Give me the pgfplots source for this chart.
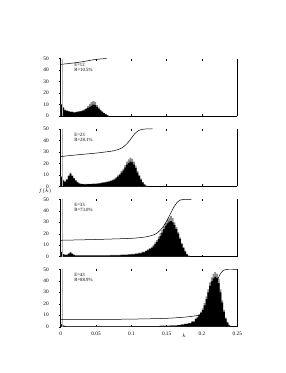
\documentclass[border=0pt]{standalone}
\usepackage{fontspec}
\setmainfont{Liberation Serif}
\usepackage{pgfplots}
\pgfplotsset{compat=1.18}
\pgfplotsset{panel/.style={
  scale only axis, width=176.6pt, height=57.4pt,
  xmin=0, xmax=0.25, ymin=0, ymax=50,
  axis x line*=bottom, axis y line*=box,
  xtick={0,0.05,0.1,0.15,0.2,0.25}, ytick={0,10,20,30,40,50},
  xtick pos=left, ytick pos=left,
  xtick align=inside, ytick align=outside,
  major tick length=2pt,
  xticklabels={},
  tick label style={font=\fontsize{5.3}{6}\selectfont},
  yticklabel style={xshift=-6.5pt},
  /pgf/number format/assume math mode=true,
  axis line style={line width=0.45pt},
  every tick/.style={black, line width=0.4pt},
  anchor=south west,
}, hg/.style={const plot, fill=black!45, draw=none},
   hb/.style={const plot, fill=black, draw=none},
   cum/.style={black, line width=0.5pt, smooth, tension=0.4},
   zl/.style={gray!60, line width=0.5pt}}
\tikzset{lab/.style={anchor=west, font=\fontsize{4.8}{5}\selectfont, inner sep=0pt}}
\newcommand{\topticks}{\pgfplotsinvokeforeach{0.05,0.1,0.15,0.2}{\draw[line width=0.4pt] (axis cs:##1,50) -- ([yshift=-2pt]axis cs:##1,50);}}
\begin{document}
\begin{tikzpicture}[x=1pt,y=1pt]
\path[use as bounding box] (0,0) rectangle (286,373);
% Panel 1
\begin{axis}[panel, at={(60.7pt,257pt)}]
\addplot[hg] coordinates {(0,10.5)(0.0025,8)(0.005,5.5)(0.0075,4.8)(0.01,4.3)(0.0125,3.8)(0.015,3.8)(0.0175,3.3)(0.02,3.5)(0.0225,3.8)(0.025,4.2)(0.0275,4.5)(0.03,5.2)(0.0325,6)(0.035,7)(0.0375,8.5)(0.04,10.5)(0.0425,12)(0.045,13)(0.0475,12)(0.05,9.5)(0.0525,7.5)(0.055,5.5)(0.0575,4)(0.06,2.8)(0.0625,1.8)(0.065,0.8)(0.0675,0)} \closedcycle;
\addplot[hb] coordinates {(0,10)(0.0025,7)(0.005,5)(0.0075,4.5)(0.01,4)(0.0125,3.5)(0.015,3.5)(0.0175,3)(0.02,3.2)(0.0225,3.5)(0.025,3.8)(0.0275,4)(0.03,4.5)(0.0325,5)(0.035,6)(0.0375,7)(0.04,8)(0.0425,9)(0.045,10)(0.0475,9.5)(0.05,8)(0.0525,6.5)(0.055,5)(0.0575,3.5)(0.06,2.5)(0.0625,1.5)(0.065,0.5)(0.0675,0)} \closedcycle;
\addplot[zl] coordinates {(0.0022,0)(0.0022,50)};
\addplot[cum] coordinates {(0,45)(0.01,45.6)(0.02,46.3)(0.03,47.2)(0.04,48.3)(0.05,49.3)(0.058,49.8)(0.065,50)};
\topticks
\node[lab] at (axis cs:0.019,44.8) {E=12};
\node[lab] at (axis cs:0.019,40.3) {R=10.5\%};
\end{axis}
% Panel 2
\begin{axis}[panel, at={(60.7pt,186.6pt)}]
\addplot[hg] coordinates {(0,9)(0.0025,6)(0.005,4.5)(0.0075,6.5)(0.01,9.5)(0.0125,12)(0.015,9.5)(0.0175,7.5)(0.02,5.5)(0.0225,4)(0.025,3)(0.0275,2.4)(0.03,2.3)(0.0325,2.1)(0.035,2.1)(0.0375,2.3)(0.045,2.5)(0.05,2.6)(0.0525,2.8)(0.055,3)(0.0575,3.4)(0.06,3.6)(0.0625,4)(0.065,4.3)(0.0675,4.8)(0.07,5.3)(0.0725,6)(0.075,6.8)(0.0775,8)(0.08,9.5)(0.0825,11)(0.085,13.5)(0.0875,15.5)(0.09,18.5)(0.0925,21.5)(0.095,23.5)(0.0975,25)(0.1,24)(0.1025,21.5)(0.105,18)(0.1075,13.5)(0.11,10)(0.1125,6.8)(0.115,4)(0.1175,2)(0.12,0.7)(0.1225,0)} \closedcycle;
\addplot[hb] coordinates {(0,8)(0.0025,5)(0.005,4)(0.0075,6)(0.01,9)(0.0125,11)(0.015,9)(0.0175,7)(0.02,5)(0.0225,3.5)(0.025,2.5)(0.0275,2)(0.03,2)(0.0325,1.8)(0.035,1.8)(0.0375,2)(0.045,2.2)(0.05,2.3)(0.0525,2.5)(0.055,2.7)(0.0575,3)(0.06,3.2)(0.0625,3.5)(0.065,3.8)(0.0675,4.2)(0.07,4.6)(0.0725,5.2)(0.075,6)(0.0775,7)(0.08,8.5)(0.0825,10)(0.085,12)(0.0875,14)(0.09,16.5)(0.0925,19)(0.095,20.5)(0.0975,21.5)(0.1,21)(0.1025,19)(0.105,16)(0.1075,12)(0.11,9)(0.1125,6)(0.115,3.5)(0.1175,1.5)(0.12,0.5)(0.1225,0)} \closedcycle;
\addplot[zl] coordinates {(0.0022,0)(0.0022,50)};
\addplot[cum] coordinates {(0,26)(0.025,27.6)(0.05,29)(0.075,31)(0.085,33)(0.09,35)(0.095,38)(0.1,42)(0.105,46)(0.11,48.5)(0.115,49.7)(0.12,50)(0.13,50)};
\topticks
\node[lab] at (axis cs:0.019,44.8) {E=23};
\node[lab] at (axis cs:0.019,40.3) {R=28.1\%};
\end{axis}
% Panel 3
\begin{axis}[panel, at={(60.7pt,116.3pt)}]
\addplot[hg] coordinates {(0,4.5)(0.0025,2.4)(0.005,1.8)(0.0075,1.8)(0.01,3)(0.0125,4.2)(0.015,3)(0.0175,1.8)(0.02,1.3)(0.07,1.5)(0.085,1.8)(0.095,2.2)(0.1,2.5)(0.105,2.9)(0.11,3.6)(0.115,4.5)(0.12,5.6)(0.1225,6.4)(0.125,7.5)(0.1275,8.6)(0.13,10.3)(0.1325,12.5)(0.135,14.5)(0.1375,17.5)(0.14,20.5)(0.1425,23.5)(0.145,26.5)(0.1475,29.5)(0.15,32)(0.1525,34)(0.155,35.5)(0.1575,33.5)(0.16,30)(0.1625,26)(0.165,21.5)(0.1675,16.8)(0.17,12)(0.1725,8.3)(0.175,5.2)(0.1775,2.5)(0.18,0.9)(0.1825,0)} \closedcycle;
\addplot[hb] coordinates {(0,4)(0.0025,2)(0.005,1.5)(0.0075,1.5)(0.01,2.5)(0.0125,3.5)(0.015,2.5)(0.0175,1.5)(0.02,1)(0.07,1.2)(0.085,1.5)(0.095,1.8)(0.1,2)(0.105,2.4)(0.11,3)(0.115,3.8)(0.12,4.8)(0.1225,5.5)(0.125,6.5)(0.1275,7.5)(0.13,9)(0.1325,11)(0.135,13)(0.1375,15.5)(0.14,18)(0.1425,21)(0.145,24)(0.1475,27)(0.15,29)(0.1525,30.5)(0.155,31)(0.1575,30)(0.16,27.5)(0.1625,24)(0.165,20)(0.1675,15.5)(0.17,11)(0.1725,7.5)(0.175,4.5)(0.1775,2)(0.18,0.7)(0.1825,0)} \closedcycle;
\addplot[zl] coordinates {(0.0022,0)(0.0022,50)};
\addplot[cum] coordinates {(0,14.3)(0.05,15)(0.1,16)(0.12,17.2)(0.13,18.7)(0.135,20)(0.14,22.5)(0.145,26)(0.15,31)(0.155,37)(0.16,43)(0.165,47.5)(0.17,49.5)(0.175,50)(0.185,50)};
\topticks
\node[lab] at (axis cs:0.019,44.8) {E=33};
\node[lab] at (axis cs:0.019,40.3) {R=73.0\%};
\end{axis}
% Panel 4
\begin{axis}[panel, at={(60.7pt,46.3pt)}, xticklabels={0,0.05,0.1,0.15,0.2,0.25}, xticklabel style={yshift=-1.5pt}]
\addplot[hg] coordinates {(0,2.4)(0.0025,1.2)(0.005,0.7)(0.0075,0.4)(0.1,0.6)(0.14,0.9)(0.155,1.2)(0.165,1.6)(0.17,2.1)(0.175,2.6)(0.18,3.4)(0.185,4.8)(0.19,7.2)(0.1925,8.7)(0.195,11)(0.1975,13)(0.2,16)(0.2025,20.5)(0.205,26.5)(0.2075,32.5)(0.21,38.5)(0.2125,43)(0.215,46)(0.2175,47.5)(0.22,46)(0.2225,41.5)(0.225,32.5)(0.2275,23)(0.23,14.5)(0.2325,8)(0.235,4.2)(0.2375,1.6)(0.24,0)} \closedcycle;
\addplot[hb] coordinates {(0,2)(0.0025,1)(0.005,0.6)(0.0075,0.3)(0.1,0.5)(0.14,0.8)(0.155,1)(0.165,1.4)(0.17,1.8)(0.175,2.3)(0.18,3)(0.185,4.3)(0.19,6.5)(0.1925,8)(0.195,10)(0.1975,12)(0.2,14.5)(0.2025,18.5)(0.205,24)(0.2075,30)(0.21,35.5)(0.2125,39.5)(0.215,42)(0.2175,43.5)(0.22,42.5)(0.2225,38)(0.225,30)(0.2275,21)(0.23,13)(0.2325,7)(0.235,3.5)(0.2375,1.2)(0.24,0)} \closedcycle;
\addplot[zl] coordinates {(0.0022,0)(0.0022,50)};
\addplot[cum] coordinates {(0,6.3)(0.05,6.3)(0.1,6.6)(0.15,7.3)(0.18,8.6)(0.2,10.5)(0.205,12.5)(0.21,17)(0.215,26)(0.22,37)(0.225,45)(0.23,49)(0.235,50)(0.25,50)};
\topticks
\node[lab] at (axis cs:0.019,44.8) {E=43};
\node[lab] at (axis cs:0.019,40.3) {R=88.9\%};
\end{axis}
\node[font=\fontsize{5.5}{6}\selectfont, inner sep=0pt] at (45,181.5) {$f(k)$};
\node[font=\fontsize{5.5}{6}\selectfont, inner sep=0pt] at (184,37) {$k$};
\end{tikzpicture}
\end{document}
